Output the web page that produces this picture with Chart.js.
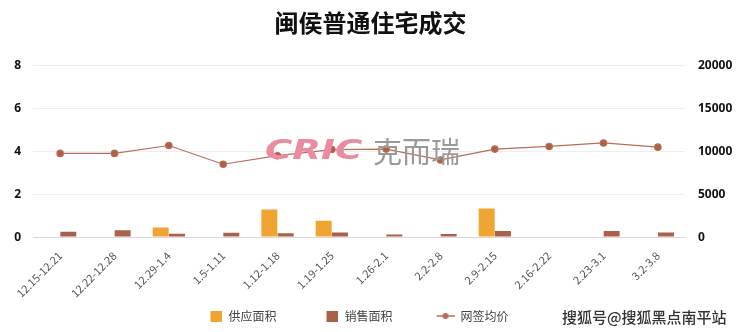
<!DOCTYPE html>
<html>
<head>
<meta charset="utf-8">
<script src="https://cdn.jsdelivr.net/npm/chart.js@4"></script>
<style>
  html, body { margin: 0; padding: 0; background: #fff; }
  #wrap { width: 740px; height: 332px; }
</style>
</head>
<body>
<div id="wrap"><canvas id="chart" width="740" height="332"></canvas></div>
<script>
const weeks = ["12.15-12.21", "12.22-12.28", "12.29-1.4", "1.5-1.11", "1.12-1.18", "1.19-1.25",
               "1.26-2.1", "2.2-2.8", "2.9-2.15", "2.16-2.22", "2.23-3.1", "3.2-3.8"];
const supplyArea = [0, 0, 0.45, 0, 1.29, 0.76, 0, 0, 1.33, 0, 0, 0];
const salesArea = [0.25, 0.32, 0.16, 0.2, 0.18, 0.21, 0.12, 0.14, 0.29, 0, 0.29, 0.21];
const avgPrice = [9750, 9750, 10670, 8490, 9480, 10200, 10250, 8990, 10250, 10560, 10970, 10480];
const leftTicks = [0, 2, 4, 6, 8];
const rightTicks = [0, 5000, 10000, 15000, 20000];

const FONT = "'Noto Sans CJK SC', 'Noto Sans', sans-serif";
const NUM_FONT = "'Noto Sans', 'DejaVu Sans', sans-serif";
const ICON_W = 56;   // legend icon slot, blank on the left = gap between items

function legendIcon(kind, color) {
    const c = document.createElement("canvas");
    c.width = ICON_W; c.height = 12;
    const g = c.getContext("2d");
    if (kind === "rect") {
        g.fillStyle = color;
        g.fillRect(ICON_W - 12, 1, 12, 11);
    } else {
        g.strokeStyle = color;
        g.lineWidth = 1.5;
        g.beginPath(); g.moveTo(ICON_W - 18, 6); g.lineTo(ICON_W, 6); g.stroke();
        g.fillStyle = color;
        g.beginPath(); g.arc(ICON_W - 9, 6, 3, 0, Math.PI * 2); g.fill();
    }
    return c;
}

const icons = [
    legendIcon("rect", "#F0A431"),
    legendIcon("rect", "#A9614A"),
    legendIcon("line", "#B86E56")
];

// watermarks drawn on top of the plot
const watermark = {
    id: "watermark",
    afterLayout(chart) {
        // nudge legend to the left (first icon slot is mostly blank)
        if (chart.legend && chart.legend.lineWidths) chart.legend.lineWidths[0] += 66;
    },
    afterDatasetsDraw(chart) {
        const ctx = chart.ctx;
        ctx.save();
        ctx.textBaseline = "middle";
        ctx.translate(265, 152);
        ctx.scale(1.38, 1);
        ctx.font = "italic 900 27px 'DejaVu Sans', sans-serif";
        ctx.fillStyle = "#EB8B9F";
        ctx.fillText("CRIC", 0, 0);
        ctx.restore();
        ctx.save();
        ctx.textBaseline = "middle";
        ctx.font = "400 29px " + FONT;
        ctx.fillStyle = "#9a9a9a";
        ctx.fillText("克而瑞", 373, 152);
        ctx.restore();
    },
    afterDraw(chart) {
        const ctx = chart.ctx;
        ctx.save();
        ctx.textBaseline = "middle";
        ctx.font = "500 15px " + FONT;
        ctx.lineWidth = 3;
        ctx.strokeStyle = "rgba(255,255,255,0.8)";
        ctx.strokeText("搜狐号@搜狐黑点南平站", 562, 317);
        ctx.fillStyle = "#333";
        ctx.fillText("搜狐号@搜狐黑点南平站", 562, 317);
        ctx.restore();
    }
};

new Chart(document.getElementById("chart"), {
    type: "bar",
    data: {
        labels: weeks,
        datasets: [
            {
                type: "line",
                label: "网签均价",
                data: avgPrice,
                yAxisID: "y1",
                borderColor: "#B86E56",
                backgroundColor: "#B05F47",
                borderWidth: 1.2,
                pointRadius: 3.2,
                pointHoverRadius: 3.2,
                tension: 0,
                order: 0
            },
            {
                label: "供应面积",
                data: supplyArea,
                yAxisID: "y",
                backgroundColor: "#F0A431",
                categoryPercentage: 0.6,
                barPercentage: 0.98,
                order: 1
            },
            {
                label: "销售面积",
                data: salesArea,
                yAxisID: "y",
                backgroundColor: "#A9614A",
                categoryPercentage: 0.6,
                barPercentage: 0.98,
                order: 1
            }
        ]
    },
    options: {
        responsive: false,
        animation: false,
        layout: { padding: { left: 6, right: 5, top: 0, bottom: 0 } },
        plugins: {
            title: {
                display: true,
                text: "闽侯普通住宅成交",
                color: "#111",
                font: { family: FONT, size: 24, weight: "bold" },
                padding: { top: 8, bottom: 28.6 }
            },
            legend: {
                position: "bottom",
                labels: {
                    usePointStyle: true,
                    pointStyleWidth: ICON_W,
                    color: "#444",
                    font: { family: FONT, size: 12 },
                    padding: 6,
                    generateLabels(chart) {
                        const order = [1, 2, 0];
                        return order.map((i, k) => ({
                            text: chart.data.datasets[i].label,
                            pointStyle: icons[k],
                            datasetIndex: i,
                            fontColor: "#444",
                            lineWidth: 0
                        }));
                    }
                }
            },
            tooltip: { enabled: false }
        },
        scales: {
            x: {
                grid: { display: false },
                border: { display: true, color: "#d9d9d9" },
                afterFit(axis) { axis.paddingLeft = 0; axis.paddingRight = 0; },
                ticks: {
                    color: "#555",
                    font: { family: FONT, size: 11 },
                    minRotation: 45,
                    maxRotation: 45,
                    padding: 4
                }
            },
            y: {
                position: "left",
                min: 0,
                max: 8,
                afterBuildTicks(axis) { axis.ticks = leftTicks.map(v => ({ value: v })); },
                afterFit(axis) { axis.width = 27; },
                grid: { color: "#eeeeee", drawTicks: false },
                border: { display: false },
                ticks: {
                    color: "#111",
                    font: { family: NUM_FONT, size: 12, weight: "bold" },
                    padding: 12
                }
            },
            y1: {
                position: "right",
                min: 0,
                max: 20000,
                afterBuildTicks(axis) { axis.ticks = rightTicks.map(v => ({ value: v })); },
                afterFit(axis) { axis.width = 50; },
                grid: { display: false, drawTicks: false },
                border: { display: false },
                ticks: {
                    color: "#111",
                    font: { family: NUM_FONT, size: 12, weight: "bold" },
                    padding: 13,
                    callback: v => String(v)
                }
            }
        }
    },
    plugins: [watermark]
});
</script>
</body>
</html>
